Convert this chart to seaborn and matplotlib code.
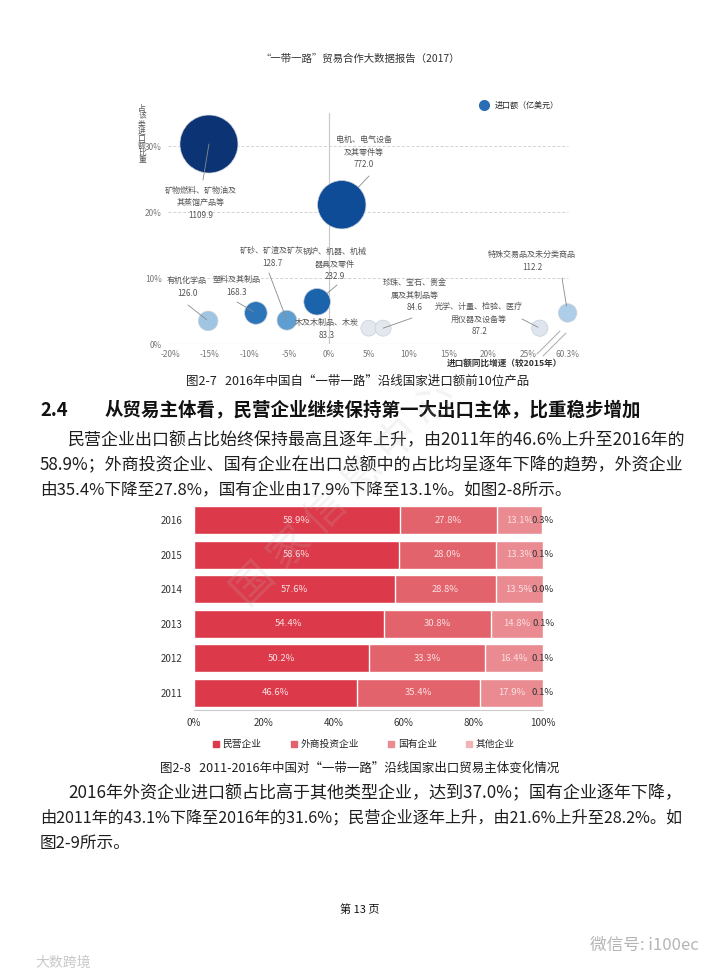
import numpy as np
import pandas as pd
import seaborn as sns
import matplotlib.pyplot as plt
from matplotlib.lines import Line2D
from matplotlib.patches import Patch

# ---- 图2-7 data: top 10 import products ----
products = ['矿物燃料、矿物油及\n其蒸馏产品等', '电机、电气设备\n及其零件等', '锅炉、机器、机械\n器具及零件',
            '塑料及其制品', '有机化学品', '矿砂、矿渣及矿灰', '木及木制品、木炭',
            '珍珠、宝石、贵金\n属及其制品等', '光学、计量、检验、医疗\n用仪器及设备等', '特殊交易品及未分类商品']
import_value = [1109.9, 772.0, 232.9, 168.3, 126.0, 128.7, 83.3, 84.6, 87.2, 112.2]
growth = [-15.1, 1.6, -1.5, -9.2, -15.2, -5.3, 5.0, 6.8, 26.5, 60.3]
share = [30.3, 21.1, 6.4, 4.7, 3.5, 3.6, 2.4, 2.4, 2.4, 4.7]
x_ticks = [-20, -15, -10, -5, 0, 5, 10, 15, 20, 25]
y_ticks = [0, 10, 20, 30]

# ---- 图2-8 data: export share by firm type ----
years = ['2016', '2015', '2014', '2013', '2012', '2011']
private = [58.9, 58.6, 57.6, 54.4, 50.2, 46.6]
foreign = [27.8, 28.0, 28.8, 30.8, 33.3, 35.4]
state = [13.1, 13.3, 13.5, 14.8, 16.4, 17.9]
other = [0.3, 0.1, 0.0, 0.1, 0.1, 0.1]
firm_types = ['民营企业', '外商投资企业', '国有企业', '其他企业']

bubble_colors = ['#0c3474', '#0f4c98', '#1b63ab', '#2c75b8', '#a0c5e3',
                 '#5e9ed1', '#e3e8ef', '#e3e8ef', '#dfe5ee', '#aecde9']
bar_colors = ['#dc3a4a', '#e2636b', '#e98b91', '#f2b3b8']

sns.set_theme(style='white')
plt.rcParams['font.family'] = ['Noto Sans CJK SC', 'DejaVu Sans']

W, H = 720, 977
fig = plt.figure(figsize=(7.2, 9.77), dpi=100)
fig.patch.set_facecolor('white')


def box(l, t, r, b):
    return [l / W, 1 - b / H, (r - l) / W, (b - t) / H]


def fp(px, py):
    return (px, H - py)


txt = '#333333'

# ================= bubble chart =================
ax1 = fig.add_axes(box(167.6, 113, 570, 344))
df = pd.DataFrame({'product': products, 'value': import_value,
                   'growth': growth, 'share': share})
df['xpos'] = np.where(df['growth'] > 28, 30, df['growth'])  # axis break after 25%

k = 1.571
vals = df['value']
sns.scatterplot(data=df, x='xpos', y='share', hue='product', hue_order=products,
                palette=bubble_colors, size='value',
                sizes=(vals.min() * k, vals.max() * k), size_norm=(vals.min(), vals.max()),
                edgecolor='#c8cfd8', linewidth=0.5, legend=False, clip_on=False,
                zorder=3, ax=ax1)
ax1.set_xlim(-20.3, 30.3)
ax1.set_ylim(0, 35)
for y in y_ticks[1:]:
    ax1.axhline(y, xmin=0, xmax=50.3 / 50.6, color='#d2d2d2', lw=0.7, ls=(0, (3, 2)), zorder=1)
ax1.axhline(0, xmax=50.3 / 50.6, color='#d8d8d8', lw=0.8, zorder=1)
ax1.axvline(0, color='#c8c8c8', lw=0.8, zorder=1)
sns.despine(ax=ax1, left=True, bottom=True)
ax1.set_xticks(x_ticks + [30])
ax1.set_xticklabels([f'{t}%' for t in x_ticks] + [f'{growth[-1]}%'], fontsize=6, color='#777777')
ax1.set_yticks(y_ticks)
ax1.set_yticklabels([f'{t}%' for t in y_ticks], fontsize=6, color='#777777')
ax1.tick_params(length=0, pad=4)
ax1.set_xlabel('')
ax1.set_ylabel('')

# labels (figure-pixel layout) and leader lines
label_pos = [(201, 203), (364, 152), (335, 264), (237, 286), (187, 287),
             (272, 257), (327, 329), (415, 295), (479, 319), (532, 261)]
leader = [((203, 180), 0), ((369, 176), 24), ((337, 285), 13), ((237, 302), 3),
          ((188, 305), 2), ((269, 273), 2), (None, 0), ((412, 318), 0),
          ((522, 319), 2), ((562, 278), 7)]
for i, row in df.iterrows():
    ax1.annotate(f"{row['product']}\n{row['value']:.1f}", xy=fp(*label_pos[i]),
                 xycoords='figure pixels', ha='center', va='center', fontsize=5.8,
                 color='#555555', linespacing=1.55, zorder=4, annotation_clip=False)
    start, shrink = leader[i]
    if start is not None:
        ax1.annotate('', xy=(row['xpos'], row['share']), xycoords='data',
                     xytext=fp(*start), textcoords='figure pixels',
                     arrowprops=dict(arrowstyle='-', color='#8a8a8a', lw=0.6,
                                     shrinkA=0, shrinkB=shrink * 0.72),
                     zorder=4, annotation_clip=False)

# axis-break marks
for (a, b) in [((537, 354), (560, 331)), ((543, 356), (566, 333))]:
    ax1.annotate('', xy=fp(*b), xycoords='figure pixels', xytext=fp(*a),
                 textcoords='figure pixels',
                 arrowprops=dict(arrowstyle='-', color='#aaaaaa', lw=0.7, shrinkA=0, shrinkB=0))

fig.text(562 / W, 1 - 363 / H, '进口额同比增速（较2015年）', ha='right', va='center',
         fontsize=6.2, fontweight='bold', color=txt)
fig.text(142 / W, 1 - 135 / H, '\n'.join('占该类进口额比重'), ha='center', va='center',
         fontsize=5.6, linespacing=0.88, color='#555555')
fig.legend(handles=[Line2D([], [], marker='o', ls='', color='#2a6db5', markersize=7)],
           labels=['进口额（亿美元）'], loc='center', bbox_to_anchor=(517 / W, 1 - 105 / H),
           frameon=False, fontsize=5.8, handletextpad=0.3, borderpad=0)

# ================= stacked bar chart =================
ax2 = fig.add_axes(box(194, 503, 543, 710))
parts = [private, foreign, state, other]
cum = np.cumsum(np.array(parts), axis=0)
for j in range(3, -1, -1):
    sns.barplot(x=cum[j], y=years, order=years, orient='h', color=bar_colors[j],
                width=0.82, edgecolor='white', linewidth=1, saturation=1, ax=ax2)
for j, part in enumerate(parts):
    for i, v in enumerate(part):
        cx = cum[j][i] - v / 2
        if j < 3:
            ax2.text(cx, i, f'{v:.1f}%', ha='center', va='center', fontsize=6.8, color='#fbe0e3')
        else:
            ax2.text(cx, i, f'{v:.1f}%', ha='center', va='center', fontsize=6.8, color='#333333')
ax2.set_xlim(0, 100)
ax2.set_xticks(range(0, 101, 20))
ax2.set_xticklabels([f'{t}%' for t in range(0, 101, 20)], fontsize=7, color=txt)
ax2.tick_params(axis='y', labelsize=7, labelcolor=txt, length=0, pad=8)
ax2.tick_params(axis='x', length=0, pad=6)
ax2.set_xlabel('')
ax2.set_ylabel('')
sns.despine(ax=ax2, left=True, top=True, right=True)
ax2.spines['bottom'].set_color('#cccccc')
ax2.spines['bottom'].set_linewidth(0.8)
ax2.legend(handles=[Patch(color=c) for c in bar_colors], labels=firm_types, ncol=4,
           loc='center', bbox_to_anchor=(0.487, -0.165), frameon=False, fontsize=7,
           handlelength=0.6, handleheight=0.6, handletextpad=0.4, columnspacing=3.0)

# faint diagonal watermark
fig.text(345 / W, 1 - 495 / H, '国 家 信 息 中 心', rotation=45, ha='center', va='center',
         fontsize=30, color='#bbbbbb', alpha=0.18, zorder=10)

# ================= page text =================
body = '#1e1e1e'
fig.text(0.5, 1 - 59 / H, '“一带一路”贸易合作大数据报告（2017）', ha='center', va='center',
         fontsize=7.5, color=txt)
fig.text(358 / W, 1 - 381 / H, '图2-7   2016年中国自“一带一路”沿线国家进口额前10位产品',
         ha='center', va='center', fontsize=9, color=body)
fig.text(40 / W, 1 - 410 / H, '2.4', ha='left', va='center', fontsize=13.3,
         fontweight='bold', color='#111111')
fig.text(105 / W, 1 - 410 / H, '从贸易主体看，民营企业继续保持第一大出口主体，比重稳步增加',
         ha='left', va='center', fontsize=13.3, fontweight='bold', color='#111111')
para1 = ['民营企业出口额占比始终保持最高且逐年上升，由2011年的46.6%上升至2016年的',
         '58.9%；外商投资企业、国有企业在出口总额中的占比均呈逐年下降的趋势，外资企业',
         '由35.4%下降至27.8%，国有企业由17.9%下降至13.1%。如图2-8所示。']
para2 = ['2016年外资企业进口额占比高于其他类型企业，达到37.0%；国有企业逐年下降，',
         '由2011年的43.1%下降至2016年的31.6%；民营企业逐年上升，由21.6%上升至28.2%。如',
         '图2-9所示。']

renderer = fig.canvas.get_renderer()
base_fs = 12.0


def paragraph(lines, top):
    # full lines are stretched to the right margin (683 px), the last one keeps base size
    for i, line in enumerate(lines):
        x0 = 68 if i == 0 else 40
        t = fig.text(x0 / W, 1 - (top + 25 * i) / H, line, ha='left', va='center',
                     fontsize=base_fs, color=body)
        if i < len(lines) - 1:
            w = t.get_window_extent(renderer).width
            t.set_fontsize(min(base_fs * (683 - x0) / w, 12.6))


paragraph(para1, 440)
fig.text(360 / W, 1 - 768 / H, '图2-8   2011-2016年中国对“一带一路”沿线国家出口贸易主体变化情况',
         ha='center', va='center', fontsize=9, color=body)
paragraph(para2, 793)

fig.text(0.5, 1 - 910 / H, '第 13 页', ha='center', va='center', fontsize=8, color='#111111')
fig.text(590 / W, 1 - 945 / H, '微信号: i100ec', ha='left', va='center', fontsize=12,
         color='#b5b5b5')
fig.text(35 / W, 1 - 963 / H, '大数跨境', ha='left', va='center', fontsize=10, color='#c8c8c8')

fig.savefig('out.png', dpi=100, facecolor='white')
